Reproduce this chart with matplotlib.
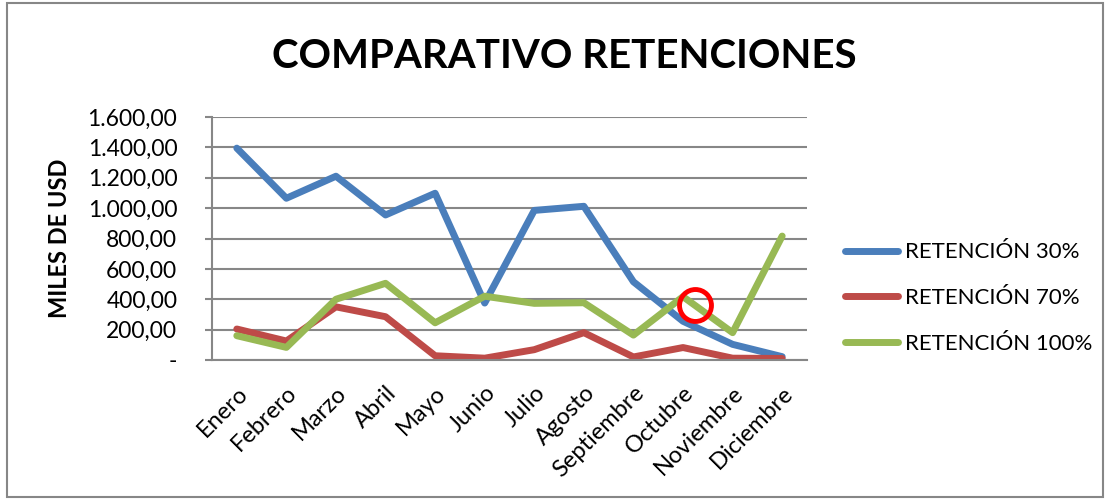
import numpy as np
import matplotlib
matplotlib.use('Agg')
import matplotlib.pyplot as plt
from matplotlib.ticker import FuncFormatter, MultipleLocator
from matplotlib.patches import Rectangle

plt.rcParams['font.family'] = ['Lato', 'DejaVu Sans']

meses = ['Enero', 'Febrero', 'Marzo', 'Abril', 'Mayo', 'Junio', 'Julio',
         'Agosto', 'Septiembre', 'Octubre', 'Noviembre', 'Diciembre']
ret30 = [1395, 1065, 1210, 955, 1098, 375, 985, 1012, 515, 255, 103, 22]
ret70 = [204, 125, 350, 285, 28, 12, 68, 180, 20, 82, 12, 10]
ret100 = [160, 83, 400, 505, 245, 420, 373, 377, 164, 417, 180, 816]
# circulo rojo marcado en Octubre
circ_x, circ_y = 9.25, 365

def fmt(v, pos):
    if v == 0:
        return '-'
    s = '{:,.2f}'.format(v)
    return s.replace(',', 'X').replace('.', ',').replace('X', '.')

fig = plt.figure(figsize=(11.1, 5), dpi=100)
ax = fig.add_axes([0.191, 0.28, 0.536, 0.486])
x = np.arange(len(meses))
ax.plot(x, ret30, color='#4A7EBB', lw=5, label='RETENCIÓN 30%', solid_capstyle='round')
ax.plot(x, ret70, color='#BE4B48', lw=5, label='RETENCIÓN 70%', solid_capstyle='round')
ax.plot(x, ret100, color='#98B954', lw=5, label='RETENCIÓN 100%', solid_capstyle='round')
ax.plot([circ_x], [circ_y], 'o', ms=23, mfc='none', mec='#FF0000', mew=3.5)

ax.set_xlim(-0.5, 11.5)
ax.set_ylim(0, 1600)
ax.yaxis.set_major_locator(MultipleLocator(200))
ax.yaxis.set_major_formatter(FuncFormatter(fmt))
ax.grid(axis='y', color='#878787', lw=1.5)
ax.set_axisbelow(True)
ax.set_xticks(x)
ax.set_xticklabels(meses, rotation=45, ha='right', rotation_mode='anchor')
ax.tick_params(axis='x', length=0, labelsize=17, pad=16)
ax.tick_params(axis='y', length=5, color='#878787', width=1.5, labelsize=16.5, pad=20)
for s in ['top', 'right']:
    ax.spines[s].set_visible(False)
for s in ['left', 'bottom']:
    ax.spines[s].set_color('#878787')
    ax.spines[s].set_linewidth(1.5)
ax.set_ylabel('MILES DE USD', fontsize=17, fontweight='bold', labelpad=12)

fig.suptitle('COMPARATIVO RETENCIONES', x=0.508, y=0.886, va='center',
             fontsize=29, fontweight='bold')
ax.legend(loc='center left', bbox_to_anchor=(1.03, 0.255), frameon=False, fontsize=16,
          handlelength=2.4, handletextpad=0.3, labelspacing=1.15)

fig.patches.append(Rectangle((0.006, 0.006), 0.988, 0.988, transform=fig.transFigure,
                             fill=False, edgecolor='#878787', lw=1.5))
fig.savefig('out.png', dpi=100)
